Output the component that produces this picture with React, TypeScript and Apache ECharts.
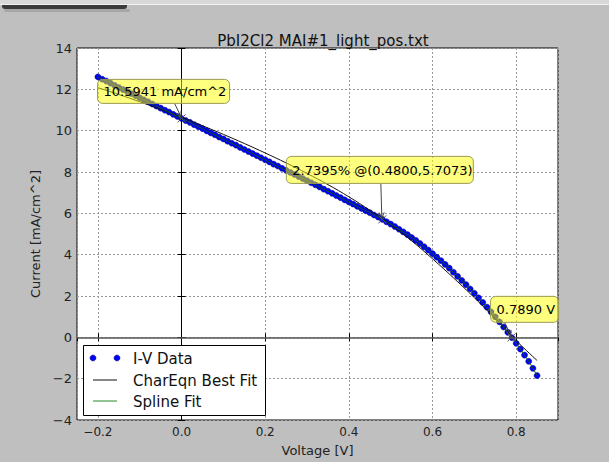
import React, { useEffect, useRef } from "react";
import * as echarts from "echarts";

// ---------- data ----------
const voltage = [
  -0.2, -0.19, -0.18, -0.17, -0.16, -0.15, -0.14, -0.13, -0.12, -0.11,
  -0.1, -0.09, -0.08, -0.07, -0.06, -0.05, -0.04, -0.03, -0.02, -0.01,
  0.0, 0.01, 0.02, 0.03, 0.04, 0.05, 0.06, 0.07, 0.08, 0.09,
  0.1, 0.11, 0.12, 0.13, 0.14, 0.15, 0.16, 0.17, 0.18, 0.19,
  0.2, 0.21, 0.22, 0.23, 0.24, 0.25, 0.26, 0.27, 0.28, 0.29,
  0.3, 0.31, 0.32, 0.33, 0.34, 0.35, 0.36, 0.37, 0.38, 0.39,
  0.4, 0.41, 0.42, 0.43, 0.44, 0.45, 0.46, 0.47, 0.48, 0.49,
  0.5, 0.51, 0.52, 0.53, 0.54, 0.55, 0.56, 0.57, 0.58, 0.59,
  0.6, 0.61, 0.62, 0.63, 0.64, 0.65, 0.66, 0.67, 0.68, 0.69,
  0.7, 0.71, 0.72, 0.73, 0.74, 0.75, 0.76, 0.77, 0.78, 0.79,
  0.8, 0.81, 0.82, 0.83, 0.84, 0.85,
];
const current = [
  12.6, 12.49, 12.4, 12.3, 12.19, 12.09, 11.99, 11.9, 11.79, 11.69,
  11.59, 11.49, 11.4, 11.29, 11.19, 11.09, 10.99, 10.9, 10.79, 10.69,
  10.59, 10.49, 10.4, 10.29, 10.19, 10.1, 9.99, 9.89, 9.8, 9.69,
  9.6, 9.49, 9.39, 9.3, 9.19, 9.09, 8.99, 8.89, 8.79, 8.69,
  8.59, 8.49, 8.38, 8.29, 8.18, 8.08, 7.98, 7.88, 7.78, 7.68,
  7.58, 7.48, 7.38, 7.28, 7.17, 7.07, 6.97, 6.86, 6.76, 6.65,
  6.55, 6.45, 6.34, 6.24, 6.13, 6.03, 5.92, 5.82, 5.71, 5.59,
  5.48, 5.36, 5.23, 5.1, 4.97, 4.83, 4.69, 4.54, 4.38, 4.22,
  4.05, 3.88, 3.71, 3.53, 3.35, 3.15, 2.95, 2.75, 2.55, 2.34,
  2.13, 1.91, 1.69, 1.46, 1.23, 0.99, 0.75, 0.5, 0.24, -0.02,
  -0.29, -0.57, -0.86, -1.16, -1.5, -1.85,
];
const fitVoltage = [
  -0.2, -0.15, -0.1, -0.05, 0.0, 0.05, 0.1, 0.15, 0.2, 0.25, 0.3,
  0.35, 0.4, 0.45, 0.5, 0.55, 0.6, 0.65, 0.7, 0.75, 0.8, 0.85,
];
const fitCurrent = [
  12.08, 11.75, 11.4, 11.03, 10.65, 10.24, 9.82, 9.38, 8.92, 8.44, 7.93,
  7.39, 6.8, 6.15, 5.45, 4.67, 3.8, 2.88, 1.92, 0.9, -0.16, -1.12,
];

const titleText = "PbI2Cl2 MAI#1_light_pos.txt";
const xAxisName = "Voltage [V]";
const yAxisName = "Current [mA/cm^2]";
const legendNames = ["I-V Data", "CharEqn Best Fit", "Spline Fit"];

const annotationTexts = ["10.5941 mA/cm^2", "2.7395% @(0.4800,5.7073)", "0.7890 V"];
const annotationPoints: [number, number][] = [
  [0.0, 10.5941],
  [0.48, 5.7073],
  [0.789, 0.0],
];

// ---------- layout (pixels, relative to the annotated point) ----------
const annotationLayout = [
  { dx: -84, dy: -39, w: 132, h: 24, ax: -7, ay: -15 },
  { dx: -96, dy: -63, w: 187, h: 27, ax: -1.5, ay: -36 },
  { dx: -21, dy: -41, w: 68, h: 26, ax: -7, ay: -15 },
];

const FONT = "DejaVu Sans";

const fmt = (v: number, d: number) => v.toFixed(d).replace("-", "\u2212");

export default function App() {
  const ref = useRef<HTMLDivElement>(null);

  useEffect(() => {
    const chart = echarts.init(ref.current!, null, { renderer: "svg" });

    const ivData = voltage.map((v, i) => [v, current[i]]);
    const fitData = fitVoltage.map((v, i) => [v, fitCurrent[i]]);

    const commonX = {
      type: "value" as const,
      min: -0.25,
      max: 0.9,
      splitNumber: 5,
    };
    const commonY = {
      type: "value" as const,
      min: -4,
      max: 14,
      interval: 2,
    };

    chart.setOption({
      animation: false,
      backgroundColor: "#bfbfbf",
      textStyle: { fontFamily: FONT },
      title: {
        text: titleText,
        left: 318,
        top: 28,
        textAlign: "center",
        textStyle: { fontSize: 15, fontWeight: "normal", color: "#111", fontFamily: FONT },
      },
      grid: {
        left: 77,
        right: 51,
        top: 48,
        bottom: 38,
        show: true,
        backgroundColor: "#ffffff",
        borderColor: "#000",
        borderWidth: 1,
      },
      xAxis: [
        {
          ...commonX,
          position: "bottom",
          name: xAxisName,
          nameLocation: "middle",
          nameGap: 24,
          nameTextStyle: { fontSize: 13, color: "#222", fontFamily: FONT },
          axisLine: { show: false },
          axisTick: { show: true, inside: true, length: 4, lineStyle: { color: "#000" } },
          axisLabel: {
            show: true,
            margin: 6,
            fontSize: 12,
            color: "#222",
            fontFamily: FONT,
            showMinLabel: false,
            showMaxLabel: false,
            formatter: (v: number) => fmt(v, 1),
          },
          splitLine: { show: true, lineStyle: { color: "#999", type: [2, 2], width: 1 } },
        },
        {
          ...commonX,
          position: "top",
          axisLine: { show: false },
          axisTick: { show: true, inside: true, length: 4, lineStyle: { color: "#000" } },
          axisLabel: { show: false },
          splitLine: { show: false },
        },
      ],
      yAxis: [
        {
          ...commonY,
          position: "left",
          name: yAxisName,
          nameLocation: "middle",
          nameGap: 28,
          nameTextStyle: { fontSize: 13, color: "#222", fontFamily: FONT },
          axisLine: { show: false },
          axisTick: { show: true, inside: true, length: 4, lineStyle: { color: "#000" } },
          axisLabel: {
            show: true,
            margin: 5,
            fontSize: 13,
            color: "#222",
            fontFamily: FONT,
            formatter: (v: number) => fmt(v, 0),
          },
          splitLine: { show: true, lineStyle: { color: "#999", type: [2, 2], width: 1 } },
        },
        {
          ...commonY,
          position: "right",
          axisLine: { show: false },
          axisTick: { show: true, inside: true, length: 4, lineStyle: { color: "#000" } },
          axisLabel: { show: false },
          splitLine: { show: false },
        },
      ],
      series: [
        {
          name: "zero-lines",
          type: "line",
          data: [],
          z: 1,
          silent: true,
          markLine: {
            silent: true,
            symbol: ["none", "none"],
            label: { show: false },
            animation: false,
            data: [
              { xAxis: 0, lineStyle: { color: "#000", width: 1, type: "solid" } },
              { yAxis: 0, lineStyle: { color: "#555", width: 1.6, type: "solid" } },
            ],
          },
        },
        {
          name: legendNames[0],
          type: "scatter",
          data: ivData,
          symbol: "circle",
          symbolSize: 6,
          z: 2,
          itemStyle: { color: "#0000ff", borderColor: "#00006b", borderWidth: 0.5, opacity: 1 },
        },
        {
          name: legendNames[1],
          type: "line",
          data: fitData,
          smooth: 0.4,
          showSymbol: false,
          z: 3,
          lineStyle: { color: "#111", width: 1 },
        },
        {
          name: legendNames[2],
          type: "line",
          data: ivData,
          smooth: true,
          showSymbol: false,
          z: 3,
          lineStyle: { color: "#0b5e0b", width: 1 },
        },
      ],
    });

    // ---------- graphics: annotations, legend, top strip ----------
    const graphics: any[] = [];

    // top strip of the window
    graphics.push(
      { type: "rect", shape: { x: 0, y: 0, width: 609, height: 4 }, style: { fill: "#d8d8d8" }, z: 100 },
      { type: "rect", shape: { x: 0, y: 4, width: 609, height: 1 }, style: { fill: "#f2f2f2" }, z: 100 },
      { type: "rect", shape: { x: 4, y: 9, width: 126, height: 3, r: 2 }, style: { fill: "rgba(0,0,0,0.12)" }, z: 100 },
      { type: "rect", shape: { x: 2, y: 5, width: 125, height: 4, r: [0, 0, 3, 3] }, style: { fill: "#3a3a3a" }, z: 101 }
    );

    annotationPoints.forEach((pt, i) => {
      const [px, py] = chart.convertToPixel({ gridIndex: 0 } as any, pt) as number[];
      const L = annotationLayout[i];
      const bx = px + L.dx;
      const by = py + L.dy;
      const sx = px + L.ax;
      const sy = py + L.ay;
      const ex = px - 0.5;
      const ey = py - 1.5;
      const len = Math.hypot(ex - sx, ey - sy);
      const ux = (ex - sx) / len;
      const uy = (ey - sy) / len;
      const hl = 6;
      const ang = (25 * Math.PI) / 180;
      const rot = (a: number) => [
        ex - hl * (ux * Math.cos(a) - uy * Math.sin(a)),
        ey - hl * (ux * Math.sin(a) + uy * Math.cos(a)),
      ];
      // x marker at point
      const m = 4;
      graphics.push(
        { type: "line", shape: { x1: px - m, y1: py - m, x2: px + m, y2: py + m }, style: { stroke: "#555", lineWidth: 1 }, z: 40 },
        { type: "line", shape: { x1: px - m, y1: py + m, x2: px + m, y2: py - m }, style: { stroke: "#555", lineWidth: 1 }, z: 40 }
      );
      // arrow
      graphics.push(
        { type: "line", shape: { x1: sx, y1: sy, x2: ex, y2: ey }, style: { stroke: "#444", lineWidth: 1 }, z: 41 },
        { type: "polyline", shape: { points: [rot(ang), [ex, ey], rot(-ang)] }, style: { stroke: "#444", lineWidth: 1, fill: null }, z: 41 }
      );
      // box
      graphics.push({
        type: "rect",
        shape: { x: bx, y: by, width: L.w, height: L.h, r: 5 },
        style: { fill: "rgba(255,255,0,0.5)", stroke: "#9a9a55", lineWidth: 1 },
        z: 42,
      });
      graphics.push({
        type: "text",
        x: bx + 6,
        y: by + L.h / 2 + 0.5,
        style: {
          text: annotationTexts[i],
          font: `13px "${FONT}"`,
          fill: "#000",
          textAlign: "left",
          textVerticalAlign: "middle",
          align: "left",
          verticalAlign: "middle",
        },
        z: 43,
      });
    });

    // legend
    const lx = 83.5;
    const ly = 345.5;
    graphics.push({
      type: "rect",
      shape: { x: lx, y: ly, width: 182, height: 70 },
      style: { fill: "#fff", stroke: "#000", lineWidth: 1 },
      z: 50,
    });
    const rows = [358, 380, 401];
    graphics.push(
      { type: "circle", shape: { cx: 93, cy: rows[0], r: 3 }, style: { fill: "#0000ff", stroke: "#00006b", lineWidth: 0.5 }, z: 51 },
      { type: "circle", shape: { cx: 117, cy: rows[0], r: 3 }, style: { fill: "#0000ff", stroke: "#00006b", lineWidth: 0.5 }, z: 51 },
      { type: "line", shape: { x1: 93, y1: rows[1], x2: 117, y2: rows[1] }, style: { stroke: "#111", lineWidth: 1 }, z: 51 },
      { type: "line", shape: { x1: 93, y1: rows[2], x2: 117, y2: rows[2] }, style: { stroke: "#2a8a2a", lineWidth: 1 }, z: 51 }
    );
    legendNames.forEach((name, i) => {
      graphics.push({
        type: "text",
        x: 133,
        y: rows[i] + 0.5,
        style: {
          text: name,
          font: `15px "${FONT}"`,
          fill: "#111",
          textAlign: "left",
          textVerticalAlign: "middle",
          align: "left",
          verticalAlign: "middle",
        },
        z: 52,
      });
    });

    chart.setOption({ graphic: { elements: graphics } });

    return () => chart.dispose();
  }, []);

  return (
    <div
      ref={ref}
      style={{ position: "fixed", left: 0, top: 0, width: 609, height: 462 }}
    />
  );
}
